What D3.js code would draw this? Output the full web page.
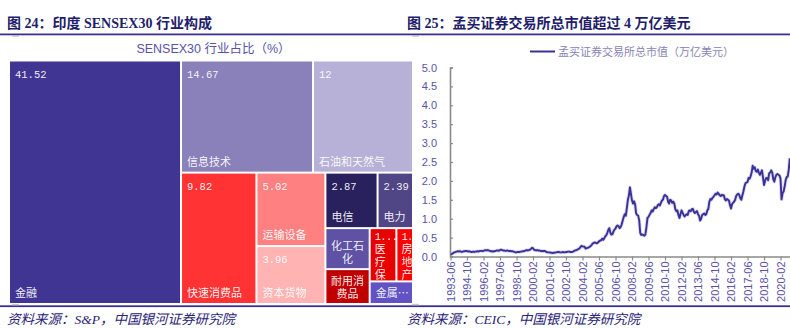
<!DOCTYPE html>
<html>
<head>
<meta charset="utf-8">
<script src="https://cdn.jsdelivr.net/npm/d3@7"></script>
<style>
  html, body { margin: 0; padding: 0; background: #fff; }
  svg { display: block; }
</style>
</head>
<body>
<svg id="chart" width="790" height="328"></svg>
<script>
// ---- Figure 24: SENSEX30 sector weights (%) ----
const sectors = ["金融", "信息技术", "石油和天然气", "快速消费品", "运输设备", "资本货物",
                 "电信", "电力", "化工石化", "耐用消费品", "医疗保健", "房地产", "金属、金属制品和采矿"];
const weights = [41.52, 14.67, 12, 9.82, 5.02, 3.96, 2.87, 2.39, 1.80, 1.53, 1.41, 1.30, 1.15];
const sectorColors = ["#413594", "#8a80ba", "#b8b1d7", "#ff3333", "#ff8080", "#ffb3b3",
                      "#29215e", "#504585", "#5f52a5", "#c00000", "#e60000", "#ff0000", "#6252c4"];

// ---- Figure 25: BSE total market capitalisation, monthly from 1993-06 (trillion USD) ----
const monthStart = "1993-06";
const marketCap = [
  0.05,0.06,0.08,0.10,0.11,0.12,0.13,
  0.14,0.13,0.14,0.13,0.12,0.13,0.14,0.14,0.15,0.14,0.13,0.14,
  0.13,0.12,0.12,0.13,0.12,0.13,0.13,0.14,0.13,0.14,0.15,0.15,
  0.14,0.15,0.16,0.17,0.16,0.17,0.16,0.15,0.14,0.14,0.13,0.14,
  0.14,0.15,0.16,0.16,0.15,0.17,0.18,0.17,0.16,0.16,0.15,0.15,
  0.16,0.15,0.14,0.15,0.14,0.14,0.13,0.12,0.11,0.11,0.12,0.12,
  0.12,0.13,0.13,0.14,0.14,0.15,0.16,0.17,0.16,0.17,0.18,0.20,
  0.23,0.22,0.18,0.17,0.16,0.17,0.16,0.16,0.15,0.14,0.15,0.14,
  0.15,0.14,0.12,0.11,0.11,0.11,0.10,0.10,0.09,0.10,0.10,0.11,
  0.11,0.12,0.12,0.11,0.11,0.11,0.12,0.11,0.11,0.12,0.12,0.13,
  0.13,0.12,0.12,0.12,0.13,0.15,0.16,0.17,0.18,0.20,0.21,0.25,
  0.28,0.27,0.26,0.26,0.21,0.22,0.23,0.24,0.26,0.28,0.31,0.35,
  0.36,0.37,0.36,0.35,0.37,0.40,0.42,0.43,0.47,0.44,0.48,0.53,
  0.56,0.62,0.70,0.75,0.63,0.58,0.59,0.66,0.71,0.74,0.80,0.82,
  0.80,0.75,0.78,0.85,0.95,1.05,1.12,1.08,1.28,1.50,1.62,1.83,
  1.65,1.48,1.40,1.46,1.38,1.14,1.10,1.08,0.95,0.62,0.57,0.58,
  0.57,0.55,0.59,0.78,1.02,1.05,1.10,1.15,1.22,1.19,1.25,1.30,
  1.28,1.30,1.36,1.38,1.35,1.42,1.48,1.50,1.60,1.63,1.60,1.58,
  1.45,1.40,1.50,1.48,1.42,1.45,1.40,1.25,1.20,1.22,1.10,1.02,
  1.12,1.22,1.16,1.10,1.06,1.10,1.12,1.10,1.20,1.22,1.20,1.25,
  1.26,1.18,1.15,1.18,1.20,1.12,1.08,0.95,1.00,1.10,1.12,1.14,
  1.10,1.12,1.22,1.26,1.45,1.52,1.50,1.55,1.58,1.62,1.66,1.64,
  1.69,1.66,1.62,1.60,1.63,1.62,1.62,1.52,1.48,1.52,1.50,1.48,
  1.36,1.27,1.38,1.42,1.45,1.50,1.60,1.64,1.66,1.63,1.54,1.50,
  1.62,1.72,1.85,1.94,1.96,1.97,2.08,2.06,2.12,2.22,2.40,2.32,
  2.36,2.26,2.24,2.30,2.22,2.16,2.22,2.28,2.10,1.89,2.00,2.07,
  2.08,2.02,2.20,2.22,2.28,2.22,2.04,1.98,2.10,2.16,2.18,2.16,
  2.14,2.06,1.51,1.68,1.72,1.85,2.02,2.10,2.12,2.30,2.60
];
const xTickLabels = ["1993-06","1994-10","1996-02","1997-06","1998-10","2000-02","2001-06",
                     "2002-10","2004-02","2005-06","2006-10","2008-02","2009-06","2010-10",
                     "2012-02","2013-06","2014-10","2016-02","2017-06","2018-10","2020-02"];
const yTicks = [0, 0.5, 1, 1.5, 2, 2.5, 3, 3.5, 4, 4.5, 5];

const serifFont = "'Liberation Serif','Noto Sans CJK SC',serif";
const sansFont = "'Liberation Sans','Noto Sans CJK SC',sans-serif";
const cjkFont = "'Noto Sans CJK SC',sans-serif";
const frameColor = "#3b318e";
const textPurple = "#5a51a8";

const svg = d3.select("#chart");

// ---------- page furniture: titles, rules, sources ----------
function panelFrame(x0, x1, title, source) {
  svg.append("text").attr("x", x0 + 7).attr("y", 28)
    .attr("font-family", serifFont).attr("font-weight", "bold").attr("font-size", 14)
    .attr("fill", "#221d6b").text(title);
  svg.append("rect").attr("x", x0).attr("y", 33.5).attr("width", x1 - x0).attr("height", 1.8)
    .attr("fill", frameColor);
  svg.append("rect").attr("x", x0 + 12).attr("y", 35.3).attr("width", 7).attr("height", 1.2)
    .attr("fill", "#b0b0c0");
  svg.append("rect").attr("x", x0).attr("y", 305.3).attr("width", x1 - x0).attr("height", 1.8)
    .attr("fill", frameColor);
  svg.append("rect").attr("x", x0 + 12).attr("y", 303.8).attr("width", 7).attr("height", 1.5)
    .attr("fill", "#c8c8d4");
  svg.append("text").attr("x", x0 + 7).attr("y", 324)
    .attr("font-family", serifFont).attr("font-style", "italic").attr("font-size", 13.5)
    .attr("fill", "#2a2378").text(source);
}
panelFrame(0, 400, "图 24：印度 SENSEX30 行业构成", "资料来源：S&P，中国银河证券研究院");
panelFrame(400, 790, "图 25：孟买证券交易所总市值超过 4 万亿美元", "资料来源：CEIC，中国银河证券研究院");

// ---------- treemap ----------
svg.append("text").attr("x", 213.5).attr("y", 52.5).attr("text-anchor", "middle")
  .attr("font-family", sansFont).attr("font-size", 12.5).attr("fill", textPurple)
  .text("SENSEX30 行业占比（%）");

svg.append("defs").append("clipPath").attr("id", "tmClip")
  .append("rect").attr("x", 0).attr("y", 0).attr("width", 412).attr("height", 328);

const root = d3.hierarchy({ children: sectors.map((s, i) => ({ name: s, value: weights[i], color: sectorColors[i] })) })
  .sum(d => d.value || 0)
  .sort((a, b) => b.value - a.value);

d3.treemap()
  .tile(d3.treemapSquarify.ratio(1.15))
  .size([410, 241.5])
  .paddingInner(2)(root);

const tm = svg.append("g").attr("clip-path", "url(#tmClip)")
  .append("g").attr("transform", "translate(10,61.5)");

const nameSize = 11, valueSize = 10.5, lineH = 13, pad = 5;
const valueFont = "'Liberation Mono','DejaVu Sans Mono',monospace";

const leaves = tm.selectAll("g.tile").data(root.leaves()).join("g").attr("class", "tile");
leaves.append("rect")
  .attr("x", d => d.x0).attr("y", d => d.y0)
  .attr("width", d => d.x1 - d.x0).attr("height", d => d.y1 - d.y0)
  .attr("fill", d => d.data.color);

function labelText(g, anchor) {
  return g.append("text").attr("text-anchor", anchor || "start")
    .attr("font-family", cjkFont).attr("font-size", nameSize)
    .attr("fill", "#ffffff").attr("fill-opacity", 0.93);
}
function valueStyle(sel) {
  return sel.attr("font-family", valueFont).attr("font-size", valueSize);
}
// shorten a text node until it fits the given width, keeping at least one character
function fitText(node, full, maxW, tail) {
  node.text(full);
  if (node.node().getComputedTextLength() <= maxW) return;
  for (let n = full.length - 1; n >= 1; n--) {
    node.text(full.slice(0, n) + tail);
    if (node.node().getComputedTextLength() <= maxW || n === 1) return;
  }
}

leaves.each(function (d) {
  const g = d3.select(this);
  const w = d.x1 - d.x0, h = d.y1 - d.y0;
  const name = d.data.name, value = String(d.data.value);
  const perLine = Math.max(1, Math.floor((w - 8) / nameSize));
  const lines = d3.range(0, name.length, perLine).map(i => name.slice(i, i + perLine));
  const n = lines.length;
  const cx = (d.x0 + d.x1) / 2;
  if ((n + 1) * lineH + 8 <= h) {
    // value in the top-left corner, name block along the bottom edge
    valueStyle(labelText(g)).attr("x", d.x0 + pad).attr("y", d.y0 + 16).text(value);
    const t = labelText(g, n > 1 ? "middle" : "start");
    lines.forEach((s, i) => t.append("tspan")
      .attr("x", n > 1 ? cx : d.x0 + pad).attr("y", d.y1 - 6 - (n - 1 - i) * lineH).text(s));
  } else if (w < h) {
    // narrow tile: value, then one short line after another as far as the tile goes
    const t = labelText(g);
    const v = valueStyle(t.append("tspan")).attr("x", d.x0 + 4).attr("y", d.y0 + 11)
      .attr("letter-spacing", -0.6);
    fitText(v, value, w - 8, "...");
    lines.forEach((s, i) => {
      const yy = d.y0 + 11 + (i + 1) * lineH;
      if (yy <= d.y1 - 0.5) t.append("tspan").attr("x", d.x0 + 4).attr("y", yy).text(s);
    });
  } else if (n * lineH + 4 <= h) {
    // short tile: name only, centred, sitting on the bottom edge
    const t = labelText(g, "middle");
    lines.forEach((s, i) => t.append("tspan")
      .attr("x", cx).attr("y", d.y1 - 5 - (n - 1 - i) * lineH).text(s));
  } else {
    const t = labelText(g).attr("x", d.x0 + pad).attr("y", d.y1 - 6);
    fitText(t, name, w - 2 * pad, "…");
  }
});

// ---------- market capitalisation line ----------
const parseMonth = d3.timeParse("%Y-%m"), fmtMonth = d3.timeFormat("%Y-%m");
const months = marketCap.map((_, i) => fmtMonth(d3.timeMonth.offset(parseMonth(monthStart), i)));
const series = months.map((m, i) => ({ month: m, value: marketCap[i] }));

const x = d3.scalePoint().domain(months).range([450.5, 789.8]);
const y = d3.scaleLinear().domain([0, 5]).range([256.5, 67.5]);

const axisColor = "#8a8a8a";

const yAxis = svg.append("g").attr("transform", "translate(450,0)")
  .call(d3.axisLeft(y).tickValues(yTicks).tickFormat(d3.format(".1f"))
        .tickSize(-3).tickSizeOuter(-3).tickPadding(13));
yAxis.select(".domain").attr("stroke", axisColor).attr("stroke-width", 1.6);
yAxis.selectAll(".tick line").attr("stroke", axisColor).attr("stroke-width", 1.2);
yAxis.selectAll(".tick text").attr("font-family", sansFont).attr("font-size", 11).attr("fill", textPurple);

const xAxis = svg.append("g").attr("transform", "translate(0,256.5)")
  .call(d3.axisBottom(x).tickValues(xTickLabels).tickSize(4).tickSizeOuter(0));
xAxis.select(".domain").attr("stroke", axisColor).attr("stroke-width", 1.6);
xAxis.selectAll(".tick line").attr("stroke", axisColor).attr("stroke-width", 1.2);
xAxis.selectAll(".tick text")
  .attr("font-family", sansFont).attr("font-size", 11).attr("fill", textPurple)
  .attr("transform", "rotate(-90)").attr("text-anchor", "end")
  .attr("x", -5).attr("y", 0).attr("dy", "0.35em");

const line = d3.line().x(d => x(d.month)).y(d => y(d.value));
svg.append("path").datum(series).attr("d", line)
  .attr("fill", "none").attr("stroke", "#b9b4e2").attr("stroke-width", 3.6)
  .attr("stroke-opacity", 0.55).attr("stroke-linejoin", "round");
svg.append("path").datum(series).attr("d", line)
  .attr("fill", "none").attr("stroke", "#3a3197").attr("stroke-width", 1.9)
  .attr("stroke-linejoin", "round");

// legend
svg.append("line").attr("x1", 530).attr("x2", 555).attr("y1", 51.5).attr("y2", 51.5)
  .attr("stroke", "#3a3197").attr("stroke-width", 2);
svg.append("text").attr("x", 558).attr("y", 55.5)
  .attr("font-family", cjkFont).attr("font-size", 11)
  .attr("fill", "#8883b5").text("孟买证券交易所总市值（万亿美元）");
</script>
</body>
</html>
